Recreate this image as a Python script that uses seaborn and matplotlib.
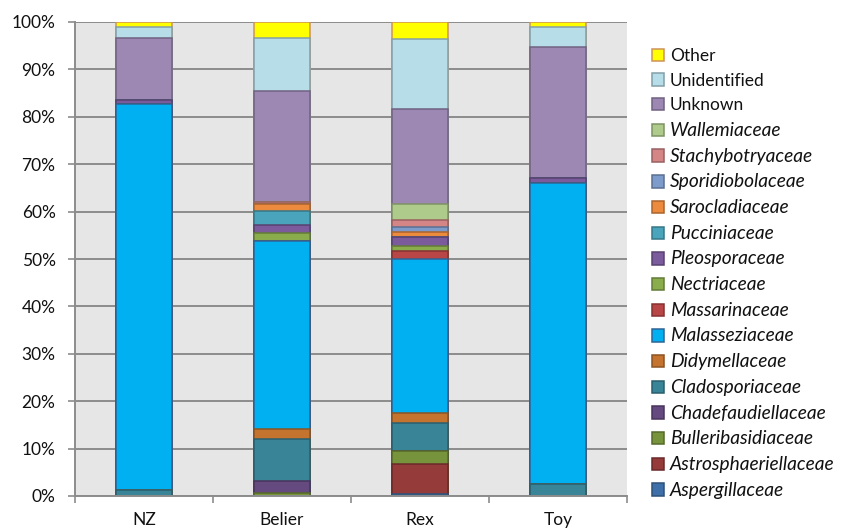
import matplotlib
matplotlib.use("Agg")
import matplotlib.pyplot as plt
import numpy as np
import pandas as pd
import seaborn as sns
from matplotlib.patches import Patch
from matplotlib.colors import to_rgb
from matplotlib.ticker import FixedLocator, FuncFormatter

samples = ["NZ", "Belier", "Rex", "Toy"]

families = [
    "Aspergillaceae", "Astrosphaeriellaceae", "Bulleribasidiaceae",
    "Chadefaudiellaceae", "Cladosporiaceae", "Didymellaceae",
    "Malasseziaceae", "Massarinaceae", "Nectriaceae", "Pleosporaceae",
    "Pucciniaceae", "Sarocladiaceae", "Sporidiobolaceae",
    "Stachybotryaceae", "Wallemiaceae", "Unknown", "Unidentified", "Other",
]

# Relative abundance (%) per sample: NZ, Belier, Rex, Toy
aspergillaceae       = [0.0, 0.0, 0.5, 0.0]
astrosphaeriellaceae = [0.0, 0.0, 6.2, 0.0]
bulleribasidiaceae   = [0.0, 0.6, 2.8, 0.0]
chadefaudiellaceae   = [0.0, 2.6, 0.0, 0.0]
cladosporiaceae      = [1.2, 8.8, 5.8, 2.5]
didymellaceae        = [0.0, 2.2, 2.25, 0.0]
malasseziaceae       = [81.5, 39.5, 32.4, 63.5]
massarinaceae        = [0.0, 0.0, 1.7, 0.0]
nectriaceae          = [0.0, 1.8, 1.1, 0.0]
pleosporaceae        = [0.8, 1.6, 1.9, 1.1]
pucciniaceae         = [0.0, 2.95, 0.0, 0.0]
sarocladiaceae       = [0.0, 1.55, 1.05, 0.0]
sporidiobolaceae     = [0.0, 0.0, 1.05, 0.0]
stachybotryaceae     = [0.0, 0.5, 1.4, 0.0]
wallemiaceae         = [0.0, 0.0, 3.5, 0.0]
unknown              = [13.2, 23.4, 19.9, 27.6]
unidentified         = [2.2, 11.1, 14.9, 4.3]
other                = [1.1, 3.4, 3.5, 1.0]

series = [
    aspergillaceae, astrosphaeriellaceae, bulleribasidiaceae,
    chadefaudiellaceae, cladosporiaceae, didymellaceae, malasseziaceae,
    massarinaceae, nectriaceae, pleosporaceae, pucciniaceae, sarocladiaceae,
    sporidiobolaceae, stachybotryaceae, wallemiaceae, unknown, unidentified,
    other,
]

colors = [
    "#3F6FA8", "#953B3A", "#77933C", "#654A80", "#3A8498", "#C4742F",
    "#00B0F0", "#B94646", "#8AAC4C", "#7B5B9C", "#4AA5BC", "#EC8B3E",
    "#7E9CCB", "#D48585", "#AFCB8B", "#9C88B2", "#B7DDE8", "#FFFF00",
]

def darker(c, f=0.72):
    r, g, b = to_rgb(c)
    return (r * f, g * f, b * f)

edges = [darker(c) for c in colors]
edges[-1] = "#D0925A"          # tan outline around the yellow "Other" block
edges[6] = "#2E6496"           # Malasseziaceae outline

plain_labels = {"Unknown", "Unidentified", "Other"}

# Long table and cumulative tops for stacking
rows = []
for fam, vals in zip(families, series):
    for s, v in zip(samples, vals):
        rows.append({"sample": s, "family": fam, "value": v})
df = pd.DataFrame(rows)
df["family"] = pd.Categorical(df["family"], families, ordered=True)
df["sample"] = pd.Categorical(df["sample"], samples, ordered=True)
df = df.sort_values(["sample", "family"])
df["top"] = df.groupby("sample", observed=True)["value"].cumsum()

sns.set_theme(style="white")
plt.rcParams["font.family"] = ["Lato", "DejaVu Sans"]

fig = plt.figure(figsize=(8.45, 5.29), dpi=100)
ax = fig.add_axes([75 / 845, 1 - 496 / 529, (627 - 75) / 845, (496 - 22) / 529])
ax.set_facecolor("#E6E6E6")

# Draw from the top of the stack downward so each lower block covers the one above
for i in range(len(families) - 1, -1, -1):
    sub = df[df["family"] == families[i]]
    sns.barplot(
        data=sub, x="sample", y="top", order=samples,
        color=colors[i], saturation=1, width=0.405,
        edgecolor=edges[i], linewidth=1.1, errorbar=None, ax=ax,
    )

ax.set_xlim(-0.5, 3.5)
ax.set_ylim(0, 100)
ax.set_xlabel("")
ax.set_ylabel("")

grid_c = "#8C8C8C"
ax.set_axisbelow(True)
ax.yaxis.grid(True, color=grid_c, linewidth=1.4)
ax.xaxis.grid(False)

ax.yaxis.set_major_locator(FixedLocator(np.arange(0, 101, 10)))
ax.yaxis.set_major_formatter(FuncFormatter(lambda v, p: f"{v:.0f}%"))
ax.tick_params(axis="y", which="major", direction="out", length=5, width=1.2,
               color=grid_c, pad=9, labelsize=12.5, labelcolor="#111111", left=True)

ax.set_xticks(range(len(samples)))
ax.set_xticklabels(samples)
ax.xaxis.set_minor_locator(FixedLocator([-0.5, 0.5, 1.5, 2.5, 3.5]))
ax.tick_params(axis="x", which="major", length=0, pad=11.5, labelsize=12.5,
               labelcolor="#111111")
ax.tick_params(axis="x", which="minor", direction="out", length=5, width=1.2,
               color=grid_c, bottom=True)

for side in ["top", "right"]:
    ax.spines[side].set_visible(False)
for side in ["left", "bottom"]:
    ax.spines[side].set_color(grid_c)
    ax.spines[side].set_linewidth(1.4)

handles = [Patch(facecolor=colors[i], edgecolor=edges[i], linewidth=1.1)
           for i in range(len(families) - 1, -1, -1)]
labels = [families[i] for i in range(len(families) - 1, -1, -1)]
leg = fig.legend(
    handles, labels, loc="upper left", bbox_to_anchor=(652 / 845, 1 - 48 / 529),
    frameon=False, fontsize=12.5, handlelength=0.72, handleheight=0.72,
    handletextpad=0.3, labelspacing=0.5, borderaxespad=0, borderpad=0,
)
for t in leg.get_texts():
    if t.get_text() not in plain_labels:
        t.set_fontstyle("italic")
        t.set_fontsize(13.8)
    t.set_color("#111111")

fig.savefig("out.png", dpi=100)
